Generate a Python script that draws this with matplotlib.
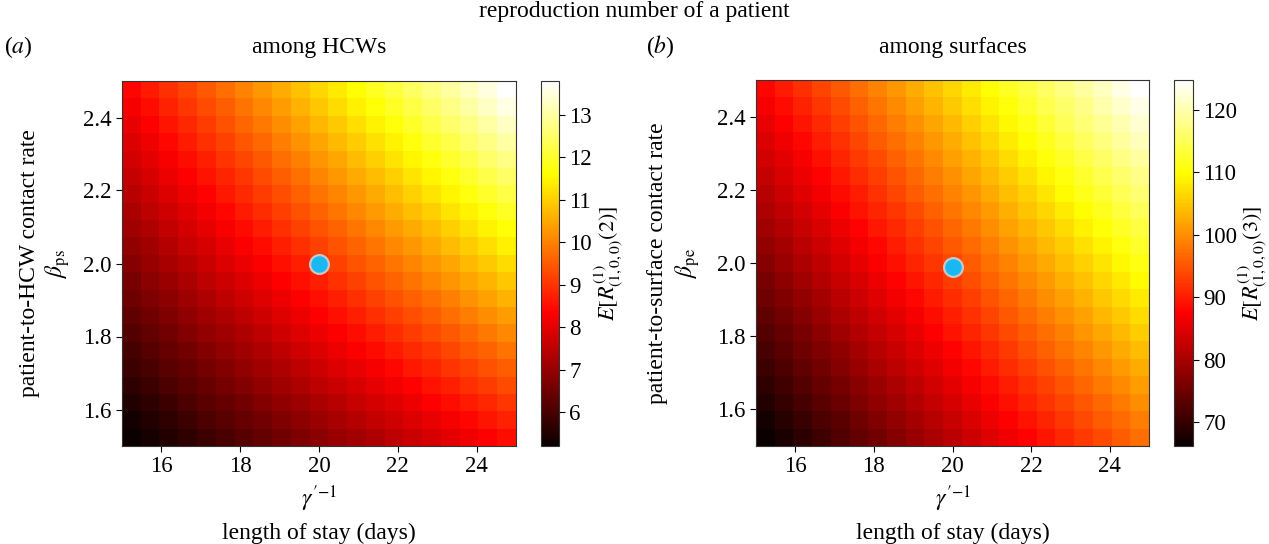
import matplotlib
matplotlib.use("Agg")
import matplotlib.pyplot as plt
import numpy as np

plt.rcParams['font.family'] = ['Liberation Serif', 'DejaVu Serif']
plt.rcParams['mathtext.fontset'] = 'stix'

# ---------------- data ----------------
length_of_stay = [15.0, 15.5, 16.0, 16.5, 17.0, 17.5, 18.0, 18.5, 19.0, 19.5, 20.0,
                  20.5, 21.0, 21.5, 22.0, 22.5, 23.0, 23.5, 24.0, 24.5, 25.0]
beta_values = [1.50, 1.55, 1.60, 1.65, 1.70, 1.75, 1.80, 1.85, 1.90, 1.95, 2.00,
               2.05, 2.10, 2.15, 2.20, 2.25, 2.30, 2.35, 2.40, 2.45, 2.50]

# rows: beta from 1.50 (first) to 2.50 (last); columns: length of stay 15 -> 25
R_hcw = [
    [5.20, 5.37, 5.53, 5.70, 5.86, 6.03, 6.19, 6.36, 6.52, 6.69, 6.85, 7.02, 7.18, 7.35, 7.51, 7.68, 7.84, 8.01, 8.17, 8.34, 8.50],
    [5.36, 5.53, 5.70, 5.87, 6.04, 6.21, 6.38, 6.55, 6.72, 6.89, 7.06, 7.23, 7.40, 7.57, 7.74, 7.91, 8.08, 8.25, 8.42, 8.60, 8.77],
    [5.52, 5.70, 5.87, 6.05, 6.22, 6.40, 6.57, 6.75, 6.92, 7.10, 7.28, 7.45, 7.63, 7.80, 7.98, 8.15, 8.33, 8.50, 8.68, 8.85, 9.03],
    [5.68, 5.86, 6.04, 6.22, 6.40, 6.58, 6.76, 6.95, 7.13, 7.31, 7.49, 7.67, 7.85, 8.03, 8.21, 8.39, 8.57, 8.75, 8.93, 9.11, 9.30],
    [5.84, 6.03, 6.21, 6.40, 6.58, 6.77, 6.96, 7.14, 7.33, 7.51, 7.70, 7.89, 8.07, 8.26, 8.44, 8.63, 8.82, 9.00, 9.19, 9.37, 9.56],
    [6.00, 6.19, 6.38, 6.57, 6.77, 6.96, 7.15, 7.34, 7.53, 7.72, 7.91, 8.10, 8.30, 8.49, 8.68, 8.87, 9.06, 9.25, 9.44, 9.63, 9.83],
    [6.16, 6.36, 6.55, 6.75, 6.95, 7.14, 7.34, 7.54, 7.73, 7.93, 8.13, 8.32, 8.52, 8.71, 8.91, 9.11, 9.30, 9.50, 9.70, 9.89, 10.09],
    [6.32, 6.52, 6.72, 6.93, 7.13, 7.33, 7.53, 7.73, 7.93, 8.14, 8.34, 8.54, 8.74, 8.94, 9.14, 9.35, 9.55, 9.75, 9.95, 10.15, 10.36],
    [6.48, 6.69, 6.89, 7.10, 7.31, 7.52, 7.72, 7.93, 8.14, 8.34, 8.55, 8.76, 8.96, 9.17, 9.38, 9.59, 9.79, 10.00, 10.21, 10.41, 10.62],
    [6.64, 6.85, 7.06, 7.28, 7.49, 7.70, 7.91, 8.13, 8.34, 8.55, 8.76, 8.97, 9.19, 9.40, 9.61, 9.82, 10.04, 10.25, 10.46, 10.67, 10.89],
    [6.80, 7.02, 7.24, 7.45, 7.67, 7.89, 8.11, 8.32, 8.54, 8.76, 8.98, 9.19, 9.41, 9.63, 9.85, 10.06, 10.28, 10.50, 10.72, 10.93, 11.15],
    [6.96, 7.18, 7.41, 7.63, 7.85, 8.07, 8.30, 8.52, 8.74, 8.96, 9.19, 9.41, 9.63, 9.86, 10.08, 10.30, 10.52, 10.75, 10.97, 11.19, 11.42],
    [7.12, 7.35, 7.58, 7.80, 8.03, 8.26, 8.49, 8.72, 8.94, 9.17, 9.40, 9.63, 9.86, 10.08, 10.31, 10.54, 10.77, 11.00, 11.22, 11.45, 11.68],
    [7.28, 7.51, 7.75, 7.98, 8.21, 8.45, 8.68, 8.91, 9.15, 9.38, 9.61, 9.85, 10.08, 10.31, 10.55, 10.78, 11.01, 11.25, 11.48, 11.71, 11.95],
    [7.44, 7.68, 7.92, 8.16, 8.39, 8.63, 8.87, 9.11, 9.35, 9.59, 9.83, 10.06, 10.30, 10.54, 10.78, 11.02, 11.26, 11.49, 11.73, 11.97, 12.21],
    [7.60, 7.84, 8.09, 8.33, 8.58, 8.82, 9.06, 9.31, 9.55, 9.79, 10.04, 10.28, 10.53, 10.77, 11.01, 11.26, 11.50, 11.74, 11.99, 12.23, 12.48],
    [7.76, 8.01, 8.26, 8.51, 8.76, 9.01, 9.25, 9.50, 9.75, 10.00, 10.25, 10.50, 10.75, 11.00, 11.25, 11.50, 11.74, 11.99, 12.24, 12.49, 12.74],
    [7.92, 8.17, 8.43, 8.68, 8.94, 9.19, 9.45, 9.70, 9.95, 10.21, 10.46, 10.72, 10.97, 11.23, 11.48, 11.73, 11.99, 12.24, 12.50, 12.75, 13.01],
    [8.08, 8.34, 8.60, 8.86, 9.12, 9.38, 9.64, 9.90, 10.16, 10.42, 10.68, 10.93, 11.19, 11.45, 11.71, 11.97, 12.23, 12.49, 12.75, 13.01, 13.27],
    [8.24, 8.50, 8.77, 9.03, 9.30, 9.56, 9.83, 10.09, 10.36, 10.62, 10.89, 11.15, 11.42, 11.68, 11.95, 12.21, 12.48, 12.74, 13.01, 13.27, 13.54],
    [8.40, 8.67, 8.94, 9.21, 9.48, 9.75, 10.02, 10.29, 10.56, 10.83, 11.10, 11.37, 11.64, 11.91, 12.18, 12.45, 12.72, 12.99, 13.26, 13.53, 13.80],
]

R_surf = [
    [66.2, 67.8, 69.3, 70.9, 72.4, 74.0, 75.5, 77.1, 78.6, 80.2, 81.7, 83.3, 84.8, 86.4, 87.9, 89.5, 91.0, 92.6, 94.1, 95.7, 97.2],
    [67.3, 68.9, 70.4, 72.0, 73.5, 75.1, 76.7, 78.2, 79.8, 81.4, 82.9, 84.5, 86.1, 87.6, 89.2, 90.8, 92.3, 93.9, 95.5, 97.0, 98.6],
    [68.4, 70.0, 71.5, 73.1, 74.7, 76.3, 77.9, 79.4, 81.0, 82.6, 84.2, 85.7, 87.3, 88.9, 90.5, 92.1, 93.6, 95.2, 96.8, 98.4, 100.0],
    [69.5, 71.1, 72.7, 74.3, 75.8, 77.4, 79.0, 80.6, 82.2, 83.8, 85.4, 87.0, 88.6, 90.2, 91.8, 93.4, 95.0, 96.6, 98.2, 99.7, 101.3],
    [70.6, 72.2, 73.8, 75.4, 77.0, 78.6, 80.2, 81.8, 83.4, 85.0, 86.6, 88.2, 89.9, 91.5, 93.1, 94.7, 96.3, 97.9, 99.5, 101.1, 102.7],
    [71.7, 73.3, 74.9, 76.5, 78.1, 79.8, 81.4, 83.0, 84.6, 86.3, 87.9, 89.5, 91.1, 92.7, 94.4, 96.0, 97.6, 99.2, 100.9, 102.5, 104.1],
    [72.7, 74.4, 76.0, 77.7, 79.3, 80.9, 82.6, 84.2, 85.8, 87.5, 89.1, 90.7, 92.4, 94.0, 95.7, 97.3, 98.9, 100.6, 102.2, 103.8, 105.5],
    [73.8, 75.5, 77.1, 78.8, 80.4, 82.1, 83.7, 85.4, 87.0, 88.7, 90.3, 92.0, 93.6, 95.3, 97.0, 98.6, 100.3, 101.9, 103.6, 105.2, 106.9],
    [74.9, 76.6, 78.3, 79.9, 81.6, 83.3, 84.9, 86.6, 88.2, 89.9, 91.6, 93.2, 94.9, 96.6, 98.2, 99.9, 101.6, 103.2, 104.9, 106.6, 108.2],
    [76.0, 77.7, 79.4, 81.1, 82.7, 84.4, 86.1, 87.8, 89.5, 91.1, 92.8, 94.5, 96.2, 97.9, 99.5, 101.2, 102.9, 104.6, 106.3, 107.9, 109.6],
    [77.1, 78.8, 80.5, 82.2, 83.9, 85.6, 87.3, 89.0, 90.7, 92.4, 94.0, 95.7, 97.4, 99.1, 100.8, 102.5, 104.2, 105.9, 107.6, 109.3, 111.0],
    [78.2, 79.9, 81.6, 83.3, 85.0, 86.7, 88.4, 90.2, 91.9, 93.6, 95.3, 97.0, 98.7, 100.4, 102.1, 103.8, 105.5, 107.3, 109.0, 110.7, 112.4],
    [79.3, 81.0, 82.7, 84.5, 86.2, 87.9, 89.6, 91.3, 93.1, 94.8, 96.5, 98.2, 100.0, 101.7, 103.4, 105.1, 106.9, 108.6, 110.3, 112.0, 113.8],
    [80.4, 82.1, 83.8, 85.6, 87.3, 89.1, 90.8, 92.5, 94.3, 96.0, 97.8, 99.5, 101.2, 103.0, 104.7, 106.4, 108.2, 109.9, 111.7, 113.4, 115.1],
    [81.5, 83.2, 85.0, 86.7, 88.5, 90.2, 92.0, 93.7, 95.5, 97.2, 99.0, 100.7, 102.5, 104.2, 106.0, 107.8, 109.5, 111.3, 113.0, 114.8, 116.5],
    [82.6, 84.3, 86.1, 87.9, 89.6, 91.4, 93.2, 94.9, 96.7, 98.5, 100.2, 102.0, 103.8, 105.5, 107.3, 109.1, 110.8, 112.6, 114.4, 116.1, 117.9],
    [83.6, 85.4, 87.2, 89.0, 90.8, 92.6, 94.3, 96.1, 97.9, 99.7, 101.5, 103.2, 105.0, 106.8, 108.6, 110.4, 112.2, 113.9, 115.7, 117.5, 119.3],
    [84.7, 86.5, 88.3, 90.1, 91.9, 93.7, 95.5, 97.3, 99.1, 100.9, 102.7, 104.5, 106.3, 108.1, 109.9, 111.7, 113.5, 115.3, 117.1, 118.9, 120.7],
    [85.8, 87.6, 89.4, 91.3, 93.1, 94.9, 96.7, 98.5, 100.3, 102.1, 103.9, 105.7, 107.6, 109.4, 111.2, 113.0, 114.8, 116.6, 118.4, 120.2, 122.0],
    [86.9, 88.7, 90.6, 92.4, 94.2, 96.0, 97.9, 99.7, 101.5, 103.3, 105.2, 107.0, 108.8, 110.6, 112.5, 114.3, 116.1, 117.9, 119.8, 121.6, 123.4],
    [88.0, 89.8, 91.7, 93.5, 95.4, 97.2, 99.0, 100.9, 102.7, 104.6, 106.4, 108.2, 110.1, 111.9, 113.8, 115.6, 117.4, 119.3, 121.1, 123.0, 124.8],
]

baseline_los = 20.0
baseline_beta_ps = 2.00
baseline_beta_pe = 1.99

x_ticks = [16, 18, 20, 22, 24]
y_ticks = [1.6, 1.8, 2.0, 2.2, 2.4]
cbar_ticks_hcw = [6, 7, 8, 9, 10, 11, 12, 13]
cbar_ticks_surf = [70, 80, 90, 100, 110, 120]

# ---------------- figure ----------------
W, H = 1269, 544
fig = plt.figure(figsize=(W / 100, H / 100), dpi=100)

def frac(x0, y0, x1, y1):
    return [x0 / W, 1 - y1 / H, (x1 - x0) / W, (y1 - y0) / H]

def fx(px):
    return px / W

def fy(py):
    return 1 - py / H

ax1 = fig.add_axes(frac(122, 81, 516, 446))
cax1 = fig.add_axes(frac(541, 81, 559, 446))
ax2 = fig.add_axes(frac(756, 80, 1149, 446))
cax2 = fig.add_axes(frac(1174, 80, 1193, 446))

extent = [length_of_stay[0], length_of_stay[-1], beta_values[0], beta_values[-1]]

LABEL_FS = 17
TICK_FS = 16.5

panels = [
    dict(ax=ax1, cax=cax1, data=R_hcw, bpt=baseline_beta_ps,
         ylab="patient-to-HCW contact rate", ylab_x=30,
         beta="$\\beta_{\\mathrm{ps}}$", beta_x=58,
         clab="$E[R^{(1)}_{(1,0,0)}(2)]$", clab_x=609,
         cticks=cbar_ticks_hcw, title="among HCWs", tag="($a$)", tag_x=18),
    dict(ax=ax2, cax=cax2, data=R_surf, bpt=baseline_beta_pe,
         ylab="patient-to-surface contact rate", ylab_x=657,
         beta="$\\beta_{\\mathrm{pe}}$", beta_x=688,
         clab="$E[R^{(1)}_{(1,0,0)}(3)]$", clab_x=1253,
         cticks=cbar_ticks_surf, title="among surfaces", tag="($b$)", tag_x=660),
]

for p in panels:
    ax, cax = p['ax'], p['cax']
    im = ax.imshow(np.array(p['data']), origin='lower', extent=extent, aspect='auto',
                   cmap='hot', interpolation='nearest')
    ax.plot([baseline_los], [p['bpt']], 'o', color='#1ab8f0', markersize=13.5,
            markeredgecolor='#c8c8c8', markeredgewidth=1.6, zorder=5)
    ax.set_xlim(extent[0], extent[1])
    ax.set_ylim(extent[2], extent[3])
    ax.set_xticks(x_ticks)
    ax.set_yticks(y_ticks)
    ax.set_yticklabels([f"{v:.1f}" for v in y_ticks])
    ax.tick_params(labelsize=TICK_FS, length=4, width=0.8)
    for sp in ax.spines.values():
        sp.set_linewidth(0.8)
        sp.set_color('#333333')

    bb = ax.get_position()
    xc = (bb.x0 + bb.x1) / 2
    yc = (bb.y0 + bb.y1) / 2

    # x-axis labels (two lines)
    fig.text(xc, fy(499), "$\\gamma^{\\prime {-1}}$", ha='center', va='center', fontsize=LABEL_FS)
    fig.text(xc, fy(533), "length of stay (days)", ha='center', va='center', fontsize=LABEL_FS)
    # y-axis labels (two lines)
    fig.text(fx(p['ylab_x']), yc, p['ylab'], rotation=90, ha='center', va='center', fontsize=LABEL_FS)
    fig.text(fx(p['beta_x']), yc, p['beta'], rotation=90, ha='center', va='center', fontsize=LABEL_FS)
    # panel title and tag
    fig.text(xc, fy(47), p['title'], ha='center', va='center', fontsize=LABEL_FS)
    fig.text(fx(p['tag_x']), fy(47), p['tag'], ha='center', va='center', fontsize=LABEL_FS)

    cb = fig.colorbar(im, cax=cax)
    cb.set_ticks(p['cticks'])
    cb.ax.tick_params(labelsize=TICK_FS, length=4, width=0.8)
    cb.outline.set_linewidth(0.8)
    cb.outline.set_edgecolor('#333333')
    cbb = cax.get_position()
    fig.text(fx(p['clab_x']), (cbb.y0 + cbb.y1) / 2, p['clab'], rotation=90,
             ha='center', va='center', fontsize=16)

fig.text(fx(634), fy(12), "reproduction number of a patient", ha='center', va='center', fontsize=LABEL_FS)

fig.savefig("out.png", dpi=100)
